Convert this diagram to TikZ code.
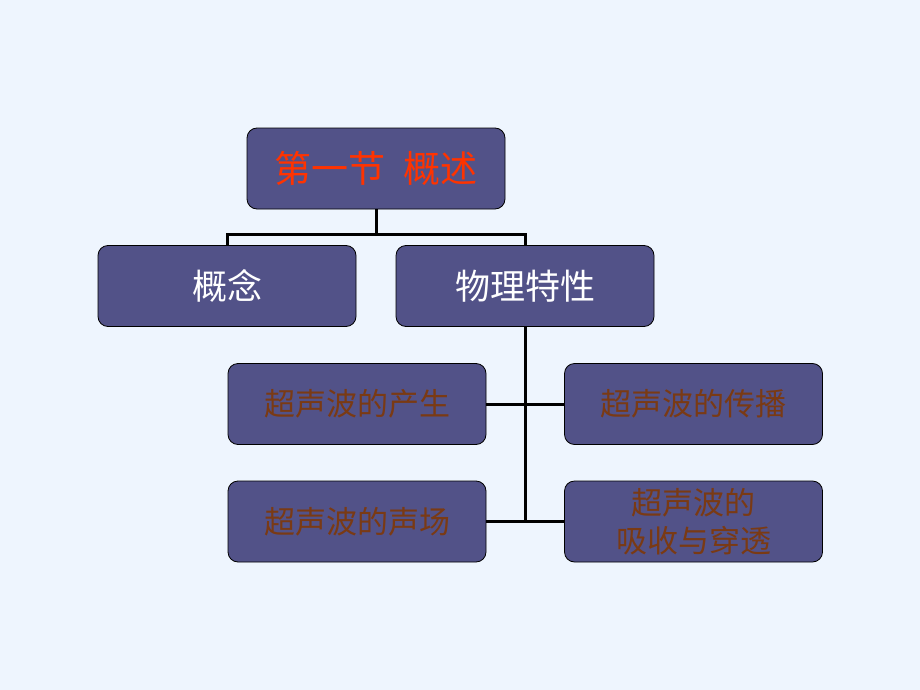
\documentclass[tikz,border=0pt]{standalone}
\usepackage{fontspec}
\setmainfont{Noto Sans CJK SC}
\definecolor{bg}{HTML}{EEF5FE}
\definecolor{boxfill}{HTML}{525288}
\definecolor{titlered}{HTML}{FF3300}
\definecolor{brown}{HTML}{7A3A14}
\tikzset{
  box/.style={draw=black, line width=0.8pt, fill=boxfill, rounded corners=10pt,
    minimum width=258pt, minimum height=81pt, inner sep=0pt, align=center},
  conn/.style={draw=black, line width=3pt},
}
\begin{document}
\begin{tikzpicture}[x=1pt,y=-1pt]
\fill[bg] (0,0) rectangle (920,690);
\useasboundingbox (0,0) rectangle (920,690);
\node[box, font=\fontsize{37}{40}\selectfont, text=titlered] (top) at (376,168.5) {第一节\hspace{0.5em}概述};
\node[box, font=\fontsize{35}{38}\selectfont, text=white] (gn) at (227,286) {概念};
\node[box, font=\fontsize{35}{38}\selectfont, text=white] (wl) at (525,286) {物理特性};
\node[box, font=\fontsize{31}{38}\selectfont, text=brown] (cs) at (357,404) {超声波的产生};
\node[box, font=\fontsize{31}{38}\selectfont, text=brown] (cb) at (693.5,404) {超声波的传播};
\node[box, font=\fontsize{31}{38}\selectfont, text=brown] (sc) at (357,521.5) {超声波的声场};
\node[box, font=\fontsize{31}{38}\selectfont, text=brown] (xs) at (693.5,521.5) {超声波的\\吸收与穿透};
\coordinate (j) at (376,234);
\coordinate (b) at (525,521.5);
\draw[conn] (top.south) -- (j);
\draw[conn] (gn.north) |- (j);
\draw[conn] (wl.north) |- (j);
\draw[conn] (wl.south) -- (b);
\draw[conn] (cs.east) -- (cb.west);
\draw[conn] (sc.east) -- (xs.west);
\end{tikzpicture}
\end{document}
